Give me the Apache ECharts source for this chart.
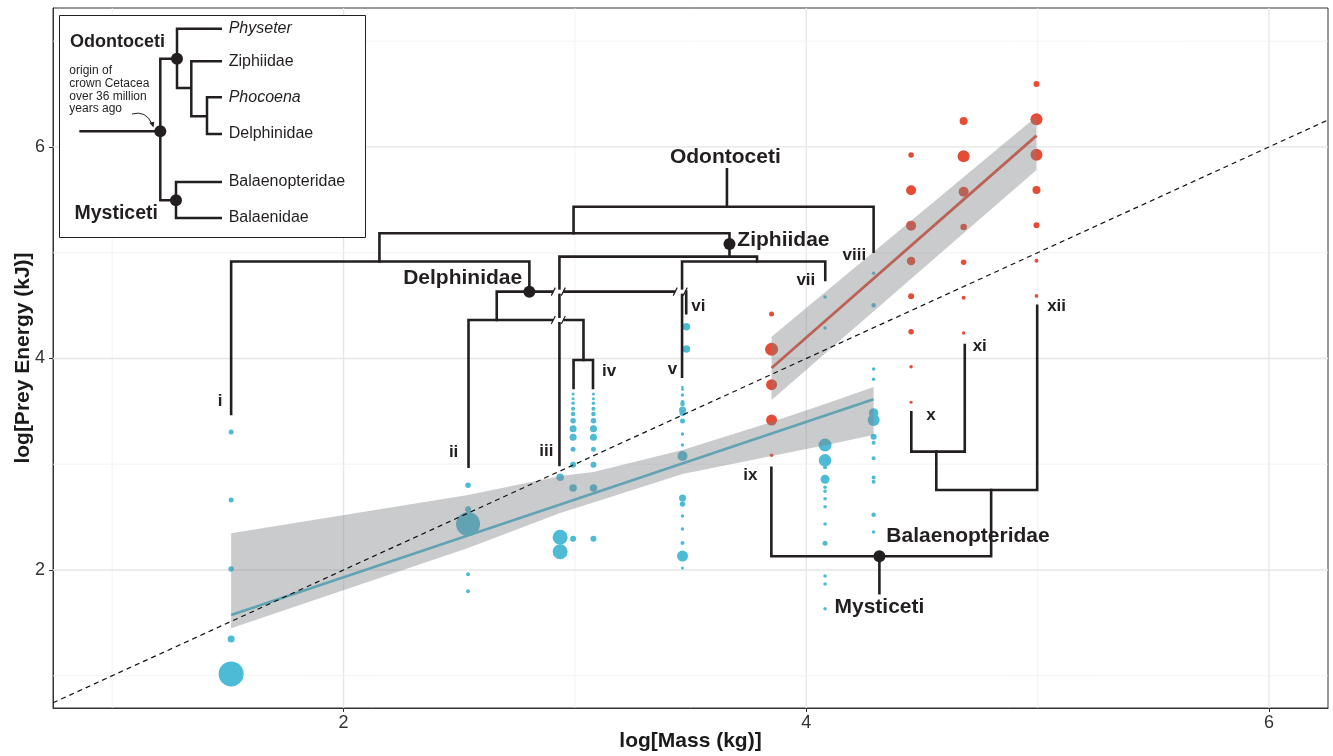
<!DOCTYPE html>
<html><head><meta charset="utf-8">
<script src="https://cdn.jsdelivr.net/npm/echarts@6/dist/echarts.min.js"></script>
<style>html,body{margin:0;padding:0;background:#fff}#c{width:1333px;height:756px}</style>
</head><body><div id="c"></div>
<script>
const FONT = "'Liberation Sans', Arial, Helvetica, sans-serif";
const xMin = 0.744, xMax = 6.255, yMin = 0.695, yMax = 7.314;
const xTicks = [2, 4, 6], yTicks = [2, 4, 6];
const xMinorTicks = [1, 3, 5], yMinorTicks = [1, 3, 5, 7];

// Odontoceti (blue) columns: clades i, ii, iii, iv(a), iv(b), v, vi, vii, viii
const odontoX = [1.514, 2.538, 2.936, 2.992, 3.080, 3.465, 3.482, 4.081, 4.291];
const odontoY = [
  [3.305, 2.662, 2.009, 1.348, 1.017],
  [2.801, 2.574, 2.435, 1.959, 1.799],
  [2.877, 2.309, 2.173],
  [3.664, 3.620, 3.576, 3.525, 3.475, 3.412, 3.336, 3.255, 3.141, 2.996, 2.775, 2.296],
  [3.664, 3.620, 3.576, 3.525, 3.475, 3.412, 3.336, 3.255, 3.141, 2.996, 2.775, 2.296],
  [3.730, 3.709, 3.655, 3.589, 3.570, 3.513, 3.485, 3.409, 3.286, 3.182, 3.078, 2.681, 2.624, 2.511, 2.388, 2.255, 2.132, 2.019],
  [4.301, 4.090],
  [4.582, 4.288, 3.182, 3.037, 2.971, 2.858, 2.782, 2.744, 2.674, 2.599, 2.435, 2.252, 1.943, 1.868, 1.634],
  [4.806, 4.503, 3.901, 3.803, 3.485, 3.418, 3.261, 3.204, 3.057, 2.875, 2.835, 2.523, 2.359]
];
const odontoWeight = [
  [5, 5, 5.5, 7, 25],
  [5.5, 6, 24, 4, 4],
  [7.5, 15, 15],
  [3, 3, 3.5, 4, 4.5, 5.5, 7, 7, 5, 6, 7.5, 6],
  [3, 3, 3.5, 4, 4.5, 5.5, 7, 7, 5, 6, 7.5, 6],
  [2.5, 3, 3.5, 4, 4.5, 7, 6, 5, 3.5, 3.5, 10, 7, 5.5, 3.5, 3.5, 4, 11, 3],
  [7.5, 7.5],
  [3.5, 3.5, 13, 12.5, 4, 9, 3.5, 3.5, 3.5, 3.5, 3.5, 5, 3.5, 3.5, 3.5],
  [3.5, 4.5, 3.5, 3.5, 9.5, 12, 6, 4, 4, 4, 4, 4.5, 3.5]
];
// Mysticeti (red) columns: clades ix, x, xi, xii
const mystiX = [3.850, 4.453, 4.680, 4.995];
const mystiY = [
  [4.421, 4.087, 3.752, 3.418, 3.085],
  [5.924, 5.591, 5.256, 4.922, 4.588, 4.253, 3.922, 3.586],
  [6.246, 5.912, 5.577, 5.243, 4.910, 4.575, 4.241],
  [6.596, 6.262, 5.927, 5.593, 5.260, 4.925, 4.591]
];
const mystiWeight = [
  [5, 13, 11, 11, 3.5],
  [5.5, 10, 10, 8.5, 6, 5.5, 3.5, 3],
  [8, 12, 10, 6.5, 5.5, 4, 3.3],
  [6, 12, 12, 8, 6, 4, 3.7]
];
// fits and confidence bands
const odontoFitX = [1.514, 4.291], odontoFitY = [1.574, 3.614];
const mystiFitX = [3.850, 4.995], mystiFitY = [3.910, 6.107];
const odontoBandX = [1.514, 2.538, 2.936, 3.080, 3.465, 3.850, 4.081, 4.291];
const odontoBandHi = [2.347, 2.709, 2.889, 2.927, 3.135, 3.400, 3.570, 3.731];
const odontoBandLo = [1.449, 2.208, 2.539, 2.638, 2.908, 3.078, 3.179, 3.277];
const mystiBandX = [3.850, 4.453, 4.995];
const mystiBandHi = [4.206, 5.303, 6.287];
const mystiBandLo = [3.608, 4.754, 5.783];
const oneToOne = [[xMin, xMin], [xMax, xMax]];

// phylogeny drawn over the plot (data units)
const treePaths = [
  [[3.657, 5.789], [3.657, 5.435]],
  [[2.994, 5.184], [2.994, 5.435], [4.291, 5.435], [4.291, 5.010]],
  [[2.155, 4.917], [2.155, 5.184], [3.668, 5.184], [3.668, 4.963]],
  [[2.933, 2.993], [2.933, 4.963], [3.787, 4.963], [3.787, 4.917]],
  [[3.463, 3.828], [3.463, 4.917], [4.082, 4.917], [4.082, 4.742]],
  [[1.514, 3.475], [1.514, 4.917], [2.803, 4.917], [2.803, 4.632]],
  [[2.662, 4.364], [2.662, 4.632], [3.481, 4.632], [3.481, 4.427]],
  [[2.540, 2.977], [2.540, 4.364], [3.037, 4.364], [3.037, 3.986]],
  [[2.994, 3.721], [2.994, 3.986], [3.078, 3.986], [3.078, 3.721]],
  [[3.849, 2.967], [3.849, 2.130], [4.799, 2.130], [4.799, 2.757]],
  [[4.316, 2.130], [4.316, 1.780]],
  [[4.562, 3.119], [4.562, 2.757], [4.998, 2.757], [4.998, 4.499]],
  [[4.454, 3.491], [4.454, 3.119], [4.685, 3.119], [4.685, 4.128]]
];
const treeNodes = [[3.668, 5.083], [2.803, 4.632], [4.316, 2.130]];
const breakMarks = [[2.928, 4.632], [3.455, 4.632], [2.928, 4.364]];
const cladeLabels = [
  ['Odontoceti', 3.650, 5.905, 'center', 21],
  ['Ziphiidae', 3.702, 5.121, 'left', 21],
  ['Delphinidae', 2.772, 4.761, 'right', 21],
  ['Balaenopteridae', 4.346, 2.315, 'left', 21],
  ['Mysticeti', 4.316, 1.644, 'center', 21],
  ['i', 1.476, 3.592, 'right', 17],
  ['ii', 2.496, 3.109, 'right', 17],
  ['iii', 2.907, 3.119, 'right', 17],
  ['iv', 3.117, 3.875, 'left', 17],
  ['v', 3.442, 3.898, 'right', 17],
  ['vi', 3.503, 4.490, 'left', 17],
  ['vii', 4.039, 4.736, 'right', 17],
  ['viii', 4.259, 4.979, 'right', 17],
  ['ix', 3.789, 2.898, 'right', 17],
  ['x', 4.518, 3.459, 'left', 17],
  ['xi', 4.719, 4.112, 'left', 17],
  ['xii', 5.041, 4.490, 'left', 17]
];

const BLUE = '#4DBBD5', RED = '#E64B35', INK = '#231f20';
const BAND = 'rgba(128,130,134,0.42)';

function buildPoints(xs, ys, ws) {
  const out = [];
  xs.forEach((x, i) => ys[i].forEach((y, j) => out.push([x, y, ws[i][j]])));
  return out;
}
const odontoData = buildPoints(odontoX, odontoY, odontoWeight);
const mystiData = buildPoints(mystiX, mystiY, mystiWeight);

const gridV = xMinorTicks.map(v => [v, yMin, 0.8, 0]).concat(xTicks.map(v => [v, yMin, 1.3, 1]));
const gridH = yMinorTicks.map(v => [xMin, v, 0.8, 0]).concat(yTicks.map(v => [xMin, v, 1.3, 1]));

function bandSeries(xs, hi, lo) {
  return {
    type: 'custom', z: 5, silent: true,
    data: [[xs[0], lo[0]]],
    renderItem: function (params, api) {
      const pts = [];
      for (let i = 0; i < xs.length; i++) pts.push(api.coord([xs[i], hi[i]]));
      for (let i = xs.length - 1; i >= 0; i--) pts.push(api.coord([xs[i], lo[i]]));
      return { type: 'polygon', shape: { points: pts }, style: { fill: BAND } };
    }
  };
}

const chart = echarts.init(document.getElementById('c'), null, { renderer: 'canvas' });
chart.setOption({
  animation: false,
  backgroundColor: '#fff',
  grid: { left: 53, right: 5, top: 8, bottom: 48, show: true, borderColor: '#333', borderWidth: 1,
    backgroundColor: 'transparent', containLabel: false, outerBoundsMode: 'none' },
  xAxis: {
    type: 'value', min: xMin, max: xMax,
    splitLine: { show: false },
    axisLine: { show: true, lineStyle: { color: '#333', width: 1 } },
    axisTick: { show: true, length: 4, customValues: xTicks, lineStyle: { color: '#333' } },
    axisLabel: { customValues: xTicks, fontSize: 18, color: '#333', margin: 6, fontFamily: FONT },
    name: 'log[Mass (kg)]', nameLocation: 'middle', nameGap: 23, nameMoveOverlap: false,
    nameTextStyle: { fontWeight: 'bold', fontSize: 21, color: '#1a1a1a', fontFamily: FONT }
  },
  yAxis: {
    type: 'value', min: yMin, max: yMax,
    splitLine: { show: false },
    axisLine: { show: true, lineStyle: { color: '#333', width: 1 } },
    axisTick: { show: true, length: 4, customValues: yTicks, lineStyle: { color: '#333' } },
    axisLabel: { customValues: yTicks, fontSize: 18, color: '#333', margin: 8, fontFamily: FONT },
    name: 'log[Prey Energy (kJ)]', nameLocation: 'middle', nameGap: 19, nameMoveOverlap: false,
    nameTextStyle: { fontWeight: 'bold', fontSize: 21, color: '#1a1a1a', fontFamily: FONT }
  },
  series: [
    { type: 'custom', z: 1, silent: true, data: gridV,
      renderItem: function (p, api) {
        const a = api.coord([api.value(0), yMin]), b = api.coord([api.value(0), yMax]);
        return { type: 'line', shape: { x1: a[0], y1: a[1], x2: b[0], y2: b[1] },
          style: { stroke: api.value(3) ? '#e6e6e6' : '#f0f0f0', lineWidth: api.value(2) } };
      } },
    { type: 'custom', z: 1, silent: true, data: gridH,
      renderItem: function (p, api) {
        const a = api.coord([xMin, api.value(1)]), b = api.coord([xMax, api.value(1)]);
        return { type: 'line', shape: { x1: a[0], y1: a[1], x2: b[0], y2: b[1] },
          style: { stroke: api.value(3) ? '#e6e6e6' : '#f0f0f0', lineWidth: api.value(2) } };
      } },
    { type: 'scatter', z: 3, data: odontoData, symbolSize: v => v[2], itemStyle: { color: BLUE, opacity: 1 } },
    { type: 'scatter', z: 3, data: mystiData, symbolSize: v => v[2], itemStyle: { color: RED, opacity: 1 } },
    { type: 'line', z: 4, data: odontoFitX.map((x, i) => [x, odontoFitY[i]]), showSymbol: false, symbol: 'none',
      lineStyle: { color: BLUE, width: 2.8 } },
    { type: 'line', z: 4, data: mystiFitX.map((x, i) => [x, mystiFitY[i]]), showSymbol: false, symbol: 'none',
      lineStyle: { color: RED, width: 2.8 } },
    bandSeries(odontoBandX, odontoBandHi, odontoBandLo),
    bandSeries(mystiBandX, mystiBandHi, mystiBandLo),
    { type: 'line', z: 6, data: oneToOne, showSymbol: false, symbol: 'none',
      lineStyle: { color: '#111', width: 1.2, type: [5, 4] } },
    { type: 'lines', coordinateSystem: 'cartesian2d', polyline: true, z: 7, silent: true,
      data: treePaths.map(c => ({ coords: c })),
      lineStyle: { color: INK, width: 2.6, opacity: 1, cap: 'square', join: 'miter' } },
    { type: 'scatter', z: 8, data: treeNodes, symbolSize: 12, itemStyle: { color: INK, opacity: 1 } }
  ]
});

// annotation texts placed at data positions through the chart's own scales
const toPx = p => chart.convertToPixel({ xAxisIndex: 0, yAxisIndex: 0 }, p);
const labelEls = cladeLabels.map(l => {
  const p = toPx([l[1], l[2]]);
  return { type: 'text', x: p[0], y: p[1], z: 60,
    style: { text: l[0], fontWeight: 'bold', fontSize: l[4], fill: INK, align: l[3], verticalAlign: 'middle', fontFamily: FONT } };
});
const breakEls = breakMarks.map(b => {
  const p = toPx(b);
  return { type: 'group', x: p[0], y: p[1], children: [
    { type: 'rect', z: 60, shape: { x: -5, y: -2, width: 10, height: 4 }, style: { fill: '#fff' } },
    { type: 'line', z: 61, shape: { x1: -7, y1: 4, x2: -3, y2: -4 }, style: { stroke: INK, lineWidth: 1.2 } },
    { type: 'line', z: 61, shape: { x1: 3, y1: 4, x2: 7, y2: -4 }, style: { stroke: INK, lineWidth: 1.2 } }
  ] };
});

const ZI = 100;
const poly = pts => ({ type: 'polyline', z: ZI + 1, shape: { points: pts }, style: { stroke: INK, lineWidth: 2.5, fill: null } });
const txt = (x, y, s, extra) => ({ type: 'text', z: ZI + 2, x: x, y: y,
  style: Object.assign({ text: s, fontSize: 16, fill: INK, verticalAlign: 'middle', fontFamily: FONT }, extra || {}) });
const inset = {
  type: 'group',
  children: [
    { type: 'rect', z: ZI, shape: { x: 59.5, y: 15.5, width: 306, height: 222 }, style: { fill: '#fff', stroke: INK, lineWidth: 1 } },
    poly([[79.3, 131.3], [160.3, 131.3]]),
    poly([[177, 58.7], [160.3, 58.7], [160.3, 200.3], [176, 200.3]]),
    poly([[222, 28.7], [177, 28.7], [177, 88], [191.3, 88]]),
    poly([[222, 61.3], [191.3, 61.3], [191.3, 116.3], [207, 116.3]]),
    poly([[222, 97.3], [207, 97.3], [207, 134], [222, 134]]),
    poly([[222, 182], [176, 182], [176, 218], [222, 218]]),
    { type: 'circle', z: ZI + 2, shape: { cx: 160.3, cy: 131.3, r: 6 }, style: { fill: INK } },
    { type: 'circle', z: ZI + 2, shape: { cx: 177, cy: 58.7, r: 6 }, style: { fill: INK } },
    { type: 'circle', z: ZI + 2, shape: { cx: 176, cy: 200.3, r: 6 }, style: { fill: INK } },
    txt(228.7, 28.7, 'Physeter', { fontStyle: 'italic' }),
    txt(228.7, 62, 'Ziphiidae'),
    txt(228.7, 98, 'Phocoena', { fontStyle: 'italic' }),
    txt(228.7, 133.3, 'Delphinidae'),
    txt(228.7, 182, 'Balaenopteridae'),
    txt(228.7, 217.3, 'Balaenidae'),
    txt(70, 42, 'Odontoceti', { fontWeight: 'bold', fontSize: 18 }),
    txt(74.5, 214, 'Mysticeti', { fontWeight: 'bold', fontSize: 19.5 }),
    txt(69.3, 64, 'origin of\ncrown Cetacea\nover 36 million\nyears ago', { fontSize: 12, lineHeight: 12.9, verticalAlign: 'top' }),
    { type: 'bezierCurve', z: ZI + 2, shape: { x1: 132, y1: 114, cpx1: 146, cpy1: 110, x2: 152, y2: 124 }, style: { stroke: INK, lineWidth: 1, fill: null } },
    { type: 'polygon', z: ZI + 2, shape: { points: [[153.5, 127.5], [149.3, 122.8], [154.3, 121.8]] }, style: { fill: INK } }
  ]
};

chart.setOption({ graphic: [inset].concat(labelEls, breakEls) });
</script>
</body></html>
